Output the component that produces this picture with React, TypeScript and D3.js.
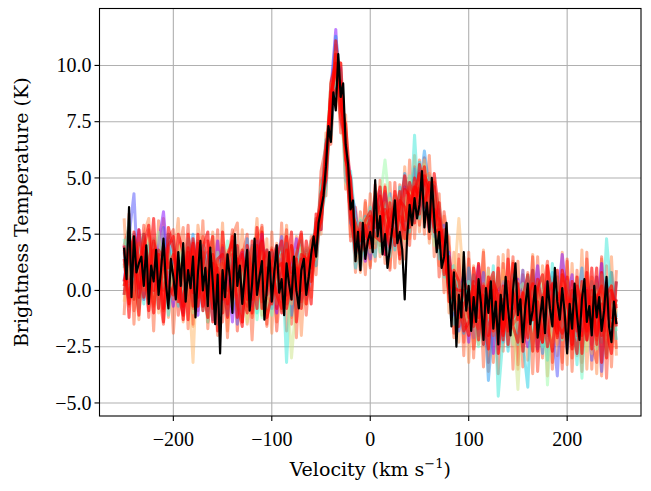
import React, { useEffect, useRef } from "react";
import * as d3 from "d3";

// velocity grid of the spectra (km/s)
const vStart = -250;
const sampleStep = 5;
const meanStep = 2.5;

const xTicks = [-200, -100, 0, 100, 200];
const yTicks = [-5, -2.5, 0, 2.5, 5, 7.5, 10];
const xDomain = [-275, 275];
const yDomain = [-5.58, 12.53];

// individual spectra, one value every 5 km/s from -250 to 250
const sample01 = [2.0, 0.3, 1.1, 2.7, -0.4, 1.1, 0.4, 2.1, 3.5, 0.7, -0.7, 1.1, 1.6, 0.1, 0.7, -1.1, 1.4, 0.7, -0.3, 2.2, -0.5, 0.9, -1.4, 1.1, 1.7, 0.2, -0.7, 1.2, 2.5, -0.2, 0.7, -1.0, 1.4, -0.1, 1.0, 2.3, -0.4, 0.8, 1.7, 1.6, 4.0, 4.8, 8.9, 11.6, 7.6, 6.4, 5.0, 1.6, 2.9, 1.3, 3.3, 2.5, 4.4, 1.6, 3.2, 2.9, 2.1, 4.6, 3.8, 4.7, 3.6, 5.3, 2.7, 3.8, 3.4, 1.0, 1.7, -1.1, -0.3, 0.7, -2.3, -0.2, 1.1, -1.7, -0.6, -2.8, 0.0, 0.3, -1.2, -0.3, 0.5, -1.6, -2.5, -0.6, 1.1, -1.1, -2.0, 0.0, -0.5, 1.6, -0.4, 0.7, -1.9, -1.3, 0.1, -2.4, -0.8, 1.2, -1.6, -0.1, -0.5];
const sample02 = [0.4, 2.4, 4.3, -0.3, 1.6, 2.0, -0.1, 0.6, 2.8, -0.6, 1.3, 0.3, -1.0, 1.5, 0.9, 2.2, -0.1, -0.9, 0.9, 0.5, 1.9, 0.1, 1.0, -1.5, 0.6, 1.4, -0.4, 2.2, 0.0, 0.7, -0.8, 1.2, 2.4, -0.2, 0.3, 0.9, 1.5, -0.4, 0.7, 2.8, 2.7, 6.4, 7.3, 9.6, 9.9, 4.9, 4.5, 3.5, 1.6, 2.9, 1.4, 3.4, 2.8, 4.3, 1.8, 3.1, 4.0, 2.6, 4.8, 4.4, 5.3, 3.5, 4.5, 2.4, 2.7, 2.9, -0.1, 0.4, -1.8, -0.5, 0.1, -2.1, -0.4, 0.8, -1.5, -0.7, -2.6, 0.4, -0.2, -1.3, -1.1, 0.9, -1.9, -0.4, -2.6, -0.1, 0.4, -1.5, -3.8, 0.1, -2.6, -0.7, 0.2, -1.8, -0.3, -3.1, 0.6, -3.6, -0.5, -2.1, -1.4];
const sample03 = [1.7, -0.3, 2.5, 0.9, 0.1, 1.7, 1.1, -0.8, 1.4, 2.5, 0.3, 1.7, -0.4, 0.9, 2.5, 0.0, 0.6, 1.7, -1.3, 1.0, 0.6, -1.1, 1.5, 1.0, 0.1, 2.3, -0.6, 0.8, -0.3, 1.8, 0.9, 2.0, -0.5, 1.5, -1.1, 0.7, 1.2, 1.8, 0.8, 2.1, 4.4, 5.8, 8.6, 11.3, 9.1, 7.0, 3.0, 2.6, 3.1, 2.5, 2.9, 4.1, 2.4, 3.7, 4.3, 2.0, 3.5, 5.2, 3.3, 5.4, 4.4, 6.2, 4.5, 2.7, 3.6, 1.8, -0.1, 0.6, -0.4, -1.9, 1.0, -0.5, -2.0, 0.1, -4.0, -1.4, -0.4, -2.3, 0.2, -0.6, -1.9, -0.3, 0.6, -1.3, 0.0, -2.8, -0.7, 0.8, -1.7, -0.4, 0.1, -1.6, -0.7, 1.0, -2.2, -0.6, -1.9, -0.2, 0.5, -1.3, 0.4];
const sample04 = [-0.2, 1.2, 0.5, 1.8, 2.5, -0.2, 1.2, 1.8, 0.1, 0.9, 2.2, -0.7, 1.0, 0.4, -0.5, 1.3, 2.0, 0.0, 0.7, -1.5, -0.2, 1.6, 0.4, -0.9, 1.3, -0.1, 2.0, -1.0, 1.1, 0.6, 1.7, -0.3, 0.8, 2.1, 0.1, -0.8, 1.3, 0.1, 1.5, 1.1, 3.7, 6.7, 6.9, 10.0, 8.2, 6.5, 3.9, 1.0, 2.6, 3.3, 2.0, 1.5, 3.9, 3.0, 3.8, 1.8, 4.6, 2.9, 4.2, 3.1, 5.7, 4.1, 5.1, 4.0, 1.4, 2.4, 1.5, -1.5, 0.2, -0.7, -1.2, 0.7, -0.6, -2.4, 0.0, 0.5, -1.0, -0.3, -2.7, 0.3, -0.2, -2.3, -4.3, 0.9, -1.5, -1.0, -3.1, -0.5, 0.3, -1.6, -0.7, 0.0, -2.8, -0.4, -1.4, 0.4, -1.0, -2.3, -0.2, 0.8, -1.2];
const sample05 = [1.0, 3.1, 0.0, 1.2, -0.6, 2.1, 0.5, 1.3, 1.7, -1.1, 1.0, 1.4, -0.6, 2.3, 0.3, 0.8, -0.9, 1.5, 1.0, -0.1, 1.4, -0.5, 0.7, 1.9, -1.2, 1.0, 0.5, 0.0, 2.1, -0.8, 0.0, 1.3, 1.9, -3.2, 1.1, 0.2, 2.2, -0.1, 1.3, 3.2, 3.2, 4.5, 8.2, 8.8, 9.7, 5.4, 5.3, 3.0, 1.0, 2.6, 3.7, 2.1, 3.3, 2.4, 1.5, 4.1, 2.9, 4.1, 2.6, 6.9, 3.2, 4.9, 3.7, 4.7, 2.0, 0.6, 0.9, 1.1, -1.3, 0.1, -0.2, -1.6, 0.5, -0.8, -1.9, 1.1, -4.7, -2.0, -0.1, 0.7, -2.4, -0.5, 0.0, -1.8, 0.4, -0.8, -2.1, 1.2, -1.2, -0.3, -1.7, -0.2, -3.3, 0.0, -0.6, -1.5, 0.3, -2.0, 2.3, -0.3, -2.2];
const sample06 = [2.3, 0.6, 1.4, -0.8, 1.1, 0.7, 2.3, -0.3, 0.9, 1.6, -0.2, 0.7, 1.9, -0.5, 1.2, 0.2, 1.0, -1.4, 1.6, 0.8, 0.9, 2.2, -0.3, 0.5, -0.8, 1.7, 1.0, -1.3, 0.6, 1.4, -1.1, 0.6, 1.1, 1.4, -0.4, 1.8, -0.7, 1.1, 2.2, 1.4, 4.6, 5.3, 8.0, 10.2, 7.8, 6.8, 3.4, 3.1, 2.4, 1.5, 2.8, 3.8, 1.7, 3.5, 3.1, 2.2, 4.2, 3.3, 5.1, 3.6, 4.8, 4.5, 3.2, 4.3, 3.8, 1.3, -0.2, 0.0, 0.4, -1.4, 0.4, -0.9, -2.5, 0.0, -0.5, -1.7, 0.8, -0.8, -2.1, 0.1, -0.7, -2.0, 0.7, -0.2, -1.4, -2.5, 0.0, -1.1, 0.6, -2.2, 0.4, -1.5, -0.4, -3.9, -0.1, -0.9, -1.6, 0.7, -2.9, -0.5, -1.8];
const sample07 = [0.2, 1.7, 2.1, 0.5, 0.8, -0.5, 1.4, 2.6, 0.2, 1.1, 1.7, -0.1, 0.7, 1.3, -1.0, 1.5, 0.3, 1.0, -0.5, 1.7, -0.9, 1.1, 1.8, -0.1, 0.8, -0.5, 1.5, 0.7, -1.2, 1.2, 1.2, -0.6, 0.5, 1.0, 2.0, 0.0, 0.6, 1.9, 0.4, 2.4, 2.9, 6.1, 9.2, 9.2, 8.8, 4.8, 4.3, 1.9, 3.2, 2.1, 2.1, 3.0, 4.0, 5.8, 3.6, 3.4, 1.8, 3.7, 3.1, 4.8, 3.9, 5.6, 4.2, 2.0, 3.0, 2.6, 0.1, -0.9, 0.0, 0.4, -1.7, -0.3, 0.2, -2.0, -1.1, 0.6, -1.5, 0.1, -0.5, -2.4, 0.0, 0.3, -1.7, -2.2, -0.3, 0.6, -4.2, -0.6, -1.9, -0.1, -1.4, -2.3, 0.5, -0.8, -1.8, -0.1, -2.6, -0.6, 0.1, -1.7, -0.4];
const sample08 = [1.5, 1.8, -0.4, 1.6, 0.4, 2.3, -0.4, 0.8, 1.1, -0.2, 0.6, 2.0, 0.1, -0.7, 1.6, 1.1, -0.4, 0.8, 2.3, -0.2, 1.3, 0.0, -0.7, 1.6, 0.9, -1.4, 1.1, 1.4, 0.1, 0.8, 0.2, 1.5, -0.9, 0.8, -3.0, -0.3, 1.9, 0.3, 1.9, 2.5, 4.1, 5.0, 8.7, 10.3, 8.6, 5.7, 4.0, 2.7, 1.3, 3.1, 3.4, 2.2, 3.5, 3.9, 2.4, 3.7, 3.7, 2.2, 4.4, 3.8, 5.1, 3.8, 4.6, 3.2, 3.3, 1.1, 0.7, 0.8, -1.5, -0.4, -0.5, 0.3, -1.4, -0.3, 0.9, -1.8, -0.6, -1.6, 0.6, -1.1, -4.4, -0.4, 0.2, -2.7, -0.7, 0.0, -1.6, -2.3, -0.1, 0.7, -0.1, -1.9, -1.0, 0.3, -2.7, -0.4, 0.0, -1.5, -2.2, -0.7, -1.0];
const sample09 = [-0.5, 1.1, 1.7, 2.1, 0.0, 0.9, 1.8, -1.0, 1.5, 1.0, 1.1, -0.5, 1.8, 0.7, -3.2, 2.2, 0.8, -0.7, 0.4, 1.3, 0.2, 1.8, -0.6, 1.2, -0.2, 0.7, 1.9, -0.4, 1.0, -1.0, 1.4, 0.7, -0.1, 1.8, -0.6, 1.2, 0.8, -0.6, 2.1, 2.0, 3.4, 6.3, 7.5, 10.6, 8.0, 7.4, 3.6, 2.8, 2.2, 3.2, 1.7, 3.7, 3.1, 2.2, 4.1, 2.5, 3.5, 4.4, 2.9, 4.3, 4.6, 5.8, 3.1, 4.1, 2.2, 2.1, -0.5, 0.2, 3.2, 0.2, -1.9, -0.1, -0.4, -1.3, 0.4, -0.8, -2.2, 0.9, -1.4, 0.0, 0.4, -1.2, -2.2, -0.3, 0.1, -1.7, -0.4, -2.5, -0.7, 0.2, -2.1, -0.5, 0.0, -1.6, -0.7, -2.8, -0.2, 0.2, -1.4, -2.5, -0.8];
const sample10 = [1.2, -0.1, 1.9, 0.3, 2.2, 1.3, -0.7, 1.5, 0.6, 1.9, -0.4, 1.3, 0.8, -0.2, 1.9, -0.7, 1.5, 0.6, 0.0, 1.1, 1.2, -0.8, 0.8, 1.5, 0.0, 1.3, -1.1, 0.9, 1.7, -0.3, -0.5, 1.6, 1.0, -0.4, 0.6, 1.4, -0.1, 1.5, 0.6, 2.6, 3.8, 5.5, 8.8, 9.7, 7.5, 6.2, 4.6, 1.3, 1.7, 2.8, 3.1, 1.9, 3.7, 3.1, 2.1, 3.9, 2.6, 3.5, 4.6, 3.4, 4.0, 5.0, 5.2, 2.9, 2.9, 0.8, 1.1, -0.6, -0.2, -1.7, -0.3, -2.2, 0.1, -0.6, -1.2, 0.2, -0.2, -1.9, -0.7, 0.5, -1.8, -0.7, -0.2, 0.3, -2.1, -0.6, 0.2, -1.3, -2.4, -0.9, -0.3, -2.2, -0.6, -1.2, 0.6, -1.7, -1.3, -0.1, -1.8, 0.2, -1.5];
const sample11 = [1.8, 0.4, 0.7, 1.4, 1.9, -0.4, 1.0, 1.6, 0.0, 0.8, 0.9, -0.3, 1.5, 1.0, -0.8, 0.9, 1.7, -0.1, 1.2, -0.6, 0.8, 1.5, -0.4, 0.2, 1.4, -0.7, 1.0, 0.6, -0.5, 1.7, 1.0, -0.1, 1.6, -0.6, 0.8, 1.1, -0.5, 1.6, 1.1, 1.5, 3.5, 5.9, 8.4, 10.1, 9.0, 5.6, 3.3, 2.5, 2.7, 2.0, 2.7, 3.3, 2.5, 3.4, 3.6, 2.1, 3.3, 3.1, 4.0, 4.6, 4.5, 3.9, 4.8, 3.7, 1.9, 2.0, 0.6, 0.1, -0.8, -1.1, 0.0, -1.3, -1.7, 0.3, -0.4, -2.0, -0.2, -1.1, 0.1, -1.5, -1.2, -0.1, -1.4, -0.5, 0.1, -1.9, -0.8, -0.2, -2.0, -0.4, -1.5, -0.4, -2.0, -0.1, -1.0, -0.3, -2.2, -0.7, -0.2, -1.6, -0.6];
const sample12 = [-0.2, 2.4, 1.2, -1.1, 1.9, 2.9, 0.0, 1.6, -1.4, 2.0, 2.4, -0.1, -1.1, 2.5, 0.9, -0.7, 1.9, 2.6, -1.4, 1.0, -1.0, 1.6, 2.2, -0.6, -1.6, 2.0, 0.8, -0.8, 2.6, 0.4, 1.2, 2.0, -1.0, 1.0, 2.6, -1.4, 1.4, 1.0, -0.6, 3.4, 2.7, 6.1, 8.8, 9.7, 10.1, 6.2, 3.2, 1.8, 3.0, 2.5, 2.1, 3.6, 4.6, 2.2, 3.1, 3.8, 1.4, 4.5, 4.2, 3.0, 5.6, 4.5, 2.8, 5.2, 3.3, 1.9, -0.1, 0.9, 0.4, -1.2, -2.0, 1.0, -0.2, -2.4, 0.2, 0.8, -2.8, -0.4, -1.8, 1.2, 0.1, -2.7, -0.9, 0.9, -1.7, -2.3, 1.1, -0.3, -2.1, 0.7, -0.6, -2.4, 0.6, -2.8, 0.0, -1.4, 1.0, -3.2, -0.2, 0.2, -1.6];
const sample13 = [2.0, -1.2, 2.6, 1.3, -0.3, 0.7, 3.2, -0.8, 1.4, 0.2, -0.2, 2.5, 1.7, -1.3, 2.3, 0.5, -0.7, 1.4, 2.4, -1.8, 2.6, 0.0, 1.0, 2.0, -1.4, 1.4, -0.4, 2.8, 0.2, -1.2, -0.2, 1.4, 2.2, -0.8, 0.4, 1.6, 2.6, -0.6, 2.2, 2.6, 4.3, 4.9, 8.2, 10.5, 8.1, 7.4, 4.6, 2.4, 1.6, 3.1, 3.5, 2.4, 2.2, 4.6, 2.5, 3.2, 4.4, 2.3, 3.2, 5.0, 3.4, 5.1, 4.6, 2.8, 3.9, 1.3, 1.5, -0.7, -1.6, 0.4, 0.0, -1.4, 1.2, -1.2, -2.6, 0.4, -0.2, -2.2, 1.4, -1.6, -2.3, -0.3, 0.7, -1.3, 0.5, -0.7, -2.5, 0.1, 0.9, -2.1, 0.6, -1.6, -2.8, -0.2, -2.2, 1.0, -2.0, -0.6, -3.0, 0.0, -0.8];
const sample14 = [0.4, 1.8, -0.4, 2.7, 0.9, -0.1, 2.2, 1.2, -0.8, 2.8, 1.8, -0.5, 0.7, 1.9, -0.7, 2.5, 0.1, -1.2, 1.6, 0.8, -0.4, 1.0, 2.4, -1.2, 1.6, 0.4, -1.0, 1.2, 2.2, -0.2, 1.8, -0.8, 0.8, 2.4, -0.4, 1.0, 0.0, 2.2, 1.0, 3.0, 3.7, 6.5, 7.4, 11.1, 8.9, 5.8, 5.0, 2.2, 2.6, 1.7, 2.7, 4.2, 3.4, 1.6, 3.9, 2.0, 3.6, 5.1, 3.8, 4.4, 5.2, 3.7, 4.8, 4.6, 2.1, 2.7, -0.5, 0.1, 0.0, 0.0, -1.2, 0.4, -2.2, 0.2, -0.4, -1.8, 1.0, -2.0, -0.2, -0.8, 0.3, -2.1, -0.3, -2.7, 0.1, 0.7, -1.5, -2.7, -0.1, -0.5, -2.2, 0.4, -0.8, -2.0, 0.8, -2.6, -0.4, 0.2, -1.8, -2.8, 0.4];
const sample15 = [1.4, -0.6, 1.8, 0.1, 2.5, 1.1, -1.0, 1.8, 1.4, -0.4, 0.2, 1.3, -1.3, 1.1, 2.1, -0.3, 1.1, 2.2, -0.8, 1.4, 1.6, -0.6, 0.8, 1.4, -0.2, -1.0, 2.2, 0.0, 1.2, 1.8, -0.6, 1.0, 1.2, -0.2, 2.0, 0.0, 1.6, 1.4, 0.4, 2.4, 3.1, 5.1, 9.2, 10.1, 7.7, 6.6, 3.6, 3.0, 2.2, 2.3, 3.3, 2.8, 4.2, 3.0, 1.9, 4.4, 3.2, 2.7, 4.8, 4.0, 4.6, 5.5, 3.4, 3.6, 3.1, 0.7, 1.1, -0.3, -1.2, -0.6, -0.2, -1.6, 0.4, -2.0, 0.6, -0.4, -1.6, 0.2, -2.4, 0.0, -1.3, -0.1, -2.1, 0.3, -2.7, -0.3, 0.3, -1.3, -1.9, 0.9, -0.2, -2.6, 0.2, -0.6, -1.8, 0.0, -2.4, 0.8, -1.0, -1.6, -1.2];
const sample16 = [0.2, 1.6, 2.4, -0.3, 1.3, -0.9, 1.8, 0.4, 2.0, 1.0, 1.6, 0.7, -0.7, 1.7, -0.1, 2.1, -0.9, 0.8, 1.2, -0.4, 0.8, -1.2, 1.6, 1.0, 1.8, -0.4, 0.6, 2.0, -0.8, 1.0, 1.0, -0.2, -0.8, 1.8, 0.8, 1.4, -0.8, 1.2, 1.8, 1.8, 3.9, 5.7, 8.4, 8.9, 9.3, 6.4, 4.0, 1.6, 2.4, 2.9, 1.9, 3.4, 2.8, 3.6, 2.9, 2.4, 4.0, 3.7, 2.8, 4.6, 4.2, 4.9, 4.4, 2.6, 2.7, 2.1, 0.1, 0.5, -0.4, -1.8, -1.4, 0.2, -1.2, -0.2, -2.0, 0.0, -0.8, -1.8, 0.4, -1.2, -0.3, -1.7, 0.1, -1.3, -0.5, -2.3, -0.1, 0.3, -1.5, -1.9, -1.4, 0.0, -1.8, 0.4, -2.2, -0.8, -0.2, -2.0, 0.2, -1.2, -0.4];
const sample17 = [3.2, -0.7, 1.7, -1.3, 2.5, 3.2, -0.6, 0.9, 3.2, -1.2, 1.1, 3.2, -1.4, 1.7, -1.6, 2.9, 1.3, -1.2, 2.6, -0.5, 3.0, -1.8, 1.9, -0.2, 2.7, -1.5, 0.8, 3.2, -1.1, 2.3, -1.9, 2.1, -0.4, 2.9, -1.2, 2.4, -2.0, 1.7, -0.3, 3.2, 2.5, 7.0, 6.6, 10.9, 7.5, 7.8, 2.4, 3.5, 0.8, 3.9, 1.1, 4.4, 1.5, 4.7, 1.0, 4.2, 1.2, 5.5, 2.3, 6.0, 2.6, 5.6, 2.1, 4.9, 1.1, 3.3, -1.0, 1.7, -2.3, 1.5, -3.2, 1.1, -2.4, 1.8, -3.6, 0.6, -2.8, 1.6, -2.5, 1.3, -3.5, 0.9, -3.1, 1.6, -2.5, 1.1, -3.8, 0.6, -2.9, 1.7, -3.3, 1.2, -2.9, 1.8, -3.5, 0.6, -3.7, 1.4, -2.8, 1.5, -2.9];
const sample18 = [-1.1, 3.4, -1.5, 2.1, -0.4, 2.7, -1.8, 3.1, -0.9, 2.5, -1.9, 1.5, 2.8, -1.7, 2.2, -0.9, 3.1, -1.7, 1.3, -2.0, 2.0, -2.1, 2.4, 3.0, -1.4, 1.7, -2.2, 2.3, 2.8, -1.6, 2.6, -1.4, 3.0, -1.8, 1.9, -2.1, 2.2, -0.6, 2.4, 0.7, 4.9, 4.2, 9.3, 10.2, 10.1, 4.5, 5.0, 0.8, 3.5, 0.7, 4.3, 1.3, 4.9, 1.2, 4.8, 1.0, 4.7, 1.4, 5.8, 2.3, 5.8, 2.5, 6.0, 1.5, 4.3, -0.1, 2.4, -2.1, 1.6, -2.9, 1.7, -3.0, 1.2, -3.4, 1.0, -3.2, 1.5, -2.7, 1.8, -3.5, 1.3, -3.4, 0.8, -3.7, 1.5, -3.0, 1.1, -3.5, 0.6, -3.2, 1.4, -3.6, 0.9, -3.2, 1.7, -3.5, 0.6, -3.8, 1.1, -3.4, 0.9];
const sample19 = [2.0, 2.8, -0.9, 0.3, 2.9, -1.2, 2.1, 0.0, -1.5, 2.3, 2.7, -1.1, 0.2, 2.9, -1.5, 1.2, 2.4, -1.4, -0.1, 2.7, -1.4, 1.0, 2.7, -1.8, 1.5, 2.5, -1.2, 0.2, 2.9, -1.5, 1.9, -1.8, 0.8, 2.7, -1.5, 1.4, 2.5, -1.1, 1.8, 1.1, 5.3, 6.4, 6.5, 10.5, 7.0, 7.1, 2.2, 3.7, 0.9, 4.0, 1.0, 4.7, 2.0, 4.4, 0.9, 4.8, 1.6, 4.6, 2.0, 5.5, 2.9, 5.9, 2.3, 4.8, 0.6, 3.5, 1.9, -1.9, 1.4, -2.3, 1.4, -2.6, -1.2, 1.7, -3.2, 0.5, -3.7, 1.2, -2.0, 1.5, -3.3, 0.7, -2.0, 1.5, -3.6, -0.1, 1.3, -3.2, 0.3, -3.5, 1.3, -3.0, -0.1, -3.6, 1.4, -2.4, -3.2, 1.5, -3.9, 0.8, -2.6];

// drawing order: widest (orange) spectra first, then cool colours, red spectra on top
const samples = [sample17, sample18, sample19, sample01, sample02, sample03, sample04, sample05, sample06,
  sample07, sample08, sample09, sample10, sample11, sample12, sample13, sample14, sample15, sample16];
// position of each spectrum on the rainbow colour map
const sampleColorPos = [0.82, 0.88, 0.93, 0, 0.1, 0.2, 0.3, 0.36, 0.45, 0.55, 0.65, 0.75, 0.85, 0.92, 1, 1, 1, 1, 1];

// black spectrum, one value every 2.5 km/s from -250 to 250
const meanSpectrum = [1.9, 0.5, 3.7, -0.3, 2.4, 0.8, 1.2, 1.5, 0.2, 2.0, -0.6, 1.1, 0.4, 1.8, -0.2, 0.9, 2.3, 0.3, -0.8, 1.4,
  0.6, -0.4, 1.7, 0.2, 2.1, -0.5, 0.9, 0.1, 1.5, -1.2, 0.8, 2.2, 0.0, 1.0, -0.7, 1.9, 0.4, -1.5, 0.7, -2.8,
  0.9, -0.3, 1.6, 0.5, -1.0, 2.5, 0.2, 1.1, -0.6, 0.7, 1.8, -0.9, 0.3, 2.3, -0.2, 0.6, 1.3, -1.3, 0.1, 1.7,
  -0.5, 0.8, 2.0, -0.1, 0.5, -1.1, 1.2, 0.3, -0.4, 1.5, 0.0, -0.8, 0.9, 1.4, -0.2, 0.6, 1.6, 2.4, 1.5, 3.0,
  3.6, 4.2, 5.5, 7.3, 6.6, 8.8, 8.0, 10.5, 8.6, 9.2, 6.5, 5.6, 3.6, 4.0, 1.3, 2.6, 0.9, 3.0, 1.4, 2.2,
  2.6, 1.7, 4.9, 2.4, 3.3, 1.6, 2.5, 1.0, 1.9, 2.8, 4.0, 2.1, 2.6, 1.8, -0.4, 2.4, 3.8, 2.9, 4.1, 3.2,
  3.8, 5.3, 2.8, 3.9, 2.6, 5.0, 3.2, 1.7, 2.6, 1.0, 1.5, 3.0, 0.3, -1.6, 0.8, -2.5, -0.2,
  -1.2, 1.7, -0.9, 0.2, -1.8, -0.3, -1.4, 0.5, -0.6, -2.2, 0.1, -1.0, 0.4, -1.7, -0.5, -2.4, -0.2, -1.3, 0.6, -0.8,
  -2.0, 0.0, 1.2, -1.1, -0.4, -2.3, -0.7, 0.3, -1.5, -0.9, 0.2, -2.1, -1.2, -0.3, -1.9, 0.4, -0.8, -1.6, 1.0, -0.5,
  -1.3, 0.1, -1.0, -2.8, -0.6, -1.7, 0.3, -1.1, -2.2, -0.4, 0.5, -1.4, -0.7, -2.0, 0.2, -1.2, -0.3, -1.8, -0.9, 0.6,
  -1.6, -2.3, -0.5, -1.5];

// matplotlib "rainbow" colormap
const rainbow = (t: number) => {
  const r = Math.min(1, Math.abs(2 * t - 0.5));
  const g = Math.sin(Math.PI * t);
  const b = Math.cos((Math.PI * t) / 2);
  return d3.rgb(r * 255, g * 255, b * 255).formatHex();
};

const minus = (s: string) => s.replace("-", "\u2212");

const SpectraChart = () => {
  const svgRef = useRef<SVGSVGElement | null>(null);

  useEffect(() => {
    const svg = d3.select(svgRef.current);
    svg.selectAll("*").remove();

    const left = 99.5, right = 641, top = 8.5, bottom = 416;
    const tickFont = "'Liberation Serif', 'DejaVu Serif', serif";
    const titleFont = "'DejaVu Serif', 'Liberation Serif', serif";

    const x = d3.scaleLinear().domain(xDomain).range([left, right]);
    const y = d3.scaleLinear().domain(yDomain).range([bottom, top]);

    svg.append("defs").append("clipPath").attr("id", "plot-clip")
      .append("rect").attr("x", left).attr("y", top)
      .attr("width", right - left).attr("height", bottom - top);

    // grid
    const grid = svg.append("g").attr("stroke", "#b0b0b0").attr("stroke-width", 1.1);
    xTicks.forEach((t) => {
      grid.append("line").attr("x1", x(t)).attr("x2", x(t)).attr("y1", top).attr("y2", bottom);
    });
    yTicks.forEach((t) => {
      grid.append("line").attr("x1", left).attr("x2", right).attr("y1", y(t)).attr("y2", y(t));
    });

    const plot = svg.append("g").attr("clip-path", "url(#plot-clip)");

    const sampleLine = d3.line<number>()
      .x((d, i) => x(vStart + i * sampleStep))
      .y((d) => y(d));

    samples.forEach((s, k) => {
      const red = sampleColorPos[k] >= 0.99;
      plot.append("path")
        .datum(s)
        .attr("d", sampleLine)
        .attr("fill", "none")
        .attr("stroke", rainbow(sampleColorPos[k]))
        .attr("stroke-opacity", red ? 0.62 : 0.5)
        .attr("stroke-width", 3)
        .attr("stroke-linejoin", "round");
    });

    const meanLine = d3.line<number>()
      .x((d, i) => x(vStart + i * meanStep))
      .y((d) => y(d));

    plot.append("path")
      .datum(meanSpectrum)
      .attr("d", meanLine)
      .attr("fill", "none")
      .attr("stroke", "#000")
      .attr("stroke-width", 2.2)
      .attr("stroke-linejoin", "round");

    // frame
    svg.append("rect")
      .attr("x", left).attr("y", top)
      .attr("width", right - left).attr("height", bottom - top)
      .attr("fill", "none").attr("stroke", "#000").attr("stroke-width", 1.1);

    // x axis
    const xAxis = svg.append("g");
    xTicks.forEach((t) => {
      xAxis.append("line").attr("x1", x(t)).attr("x2", x(t))
        .attr("y1", bottom).attr("y2", bottom + 5)
        .attr("stroke", "#000").attr("stroke-width", 1.1);
      xAxis.append("text").attr("x", x(t)).attr("y", bottom + 30)
        .attr("text-anchor", "middle")
        .style("font-family", tickFont).style("font-size", "20px")
        .text(minus(String(t)));
    });

    // y axis
    const yAxis = svg.append("g");
    yTicks.forEach((t) => {
      yAxis.append("line").attr("x1", left - 5).attr("x2", left)
        .attr("y1", y(t)).attr("y2", y(t))
        .attr("stroke", "#000").attr("stroke-width", 1.1);
      yAxis.append("text").attr("x", left - 8).attr("y", y(t))
        .attr("dy", "0.33em")
        .attr("text-anchor", "end")
        .style("font-family", tickFont).style("font-size", "20px")
        .text(minus(t.toFixed(1)));
    });

    // axis titles
    const xTitle = svg.append("text")
      .attr("x", (left + right) / 2).attr("y", 476)
      .attr("text-anchor", "middle")
      .style("font-family", titleFont).style("font-size", "19px");
    xTitle.append("tspan").text("Velocity (km s");
    xTitle.append("tspan").attr("dy", -8).style("font-size", "13px").text("\u22121");
    xTitle.append("tspan").attr("dy", 8).text(")");

    svg.append("text")
      .attr("transform", `translate(28,${(top + bottom) / 2}) rotate(-90)`)
      .attr("text-anchor", "middle")
      .style("font-family", titleFont).style("font-size", "19px")
      .text("Brightness Temperature (K)");
  }, []);

  return (
    <svg
      ref={svgRef}
      width={651}
      height={491}
      style={{ position: "absolute", left: 0, top: 0, background: "#fff" }}
    />
  );
};

const App = () => {
  return (
    <div className="App">
      <SpectraChart />
    </div>
  );
};

export default App;
